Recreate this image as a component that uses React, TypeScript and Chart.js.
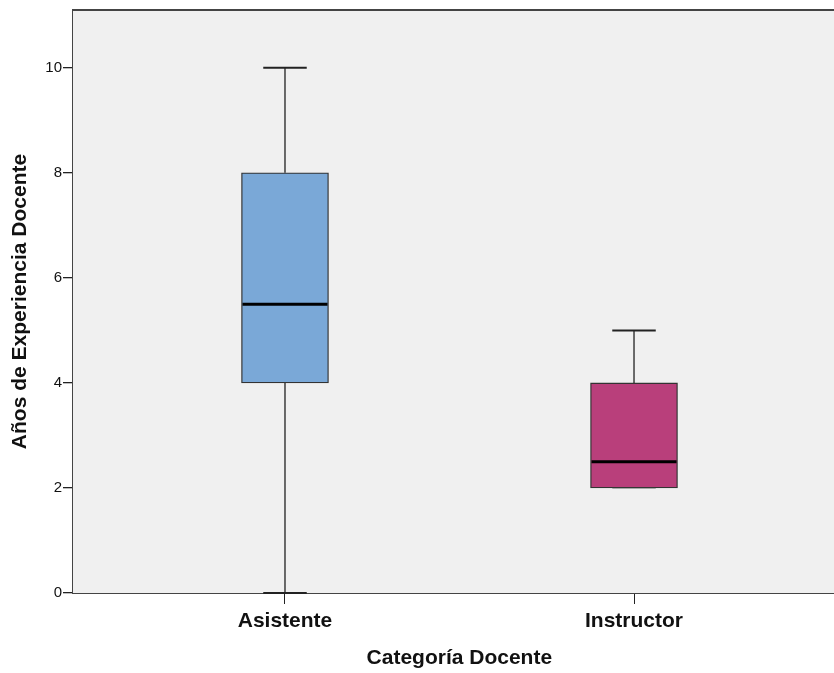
import React, { useEffect, useRef } from "react";
import { Chart, registerables } from "chart.js";

Chart.register(...registerables);

const categories = ["Asistente", "Instructor"];
const positions = [1, 2];
const mins = [0, 2];
const q1s = [4, 2];
const medians = [5.5, 2.5];
const q3s = [8, 4];
const maxs = [10, 5];
const boxColors = ["#7aa8d7", "#b93f7b"];
const yTicks = [0, 2, 4, 6, 8, 10];

const FONT = "'Liberation Sans', Arial, sans-serif";

const boxPlugin = {
  id: "boxExtras",
  beforeDatasetsDraw(chart: any) {
    const { ctx, chartArea } = chart;
    ctx.save();
    ctx.fillStyle = "#f0f0f0";
    ctx.fillRect(chartArea.left, chartArea.top, chartArea.right - chartArea.left, chartArea.bottom - chartArea.top);
    ctx.restore();
  },
  afterDatasetsDraw(chart: any) {
    const { ctx, chartArea } = chart;
    const xs = chart.scales.x;
    const ys = chart.scales.y;
    const meta = chart.getDatasetMeta(0);
    ctx.save();
    positions.forEach((p, i) => {
      const cx = xs.getPixelForValue(p);
      const w = meta.data[i] ? meta.data[i].width : 87;
      const cap = w / 2;
      const yMin = ys.getPixelForValue(mins[i]);
      const yMax = ys.getPixelForValue(maxs[i]);
      const yQ1 = ys.getPixelForValue(q1s[i]);
      const yQ3 = ys.getPixelForValue(q3s[i]);
      const yMed = ys.getPixelForValue(medians[i]);
      ctx.strokeStyle = "#111";
      ctx.lineWidth = 1.2;
      ctx.beginPath();
      ctx.moveTo(cx, yQ3);
      ctx.lineTo(cx, yMax);
      ctx.moveTo(cx, yQ1);
      ctx.lineTo(cx, yMin);
      ctx.stroke();
      ctx.lineWidth = 2;
      ctx.strokeStyle = "#222";
      ctx.beginPath();
      ctx.moveTo(cx - cap / 2, yMax);
      ctx.lineTo(cx + cap / 2, yMax);
      ctx.stroke();
      ctx.strokeStyle = mins[i] === q1s[i] ? "rgba(60,60,60,0.35)" : "#222";
      ctx.beginPath();
      ctx.moveTo(cx - cap / 2, yMin);
      ctx.lineTo(cx + cap / 2, yMin);
      ctx.stroke();
      ctx.strokeStyle = "#000";
      ctx.lineWidth = 3;
      ctx.beginPath();
      ctx.moveTo(cx - w / 2 + 1, yMed);
      ctx.lineTo(cx + w / 2 - 1, yMed);
      ctx.stroke();
    });
    ctx.strokeStyle = "#444";
    ctx.lineWidth = 2;
    ctx.beginPath();
    ctx.moveTo(chartArea.left - 1, chartArea.top);
    ctx.lineTo(chartArea.right, chartArea.top);
    ctx.stroke();
    ctx.restore();
  },
};

export default function App() {
  const ref = useRef<HTMLCanvasElement | null>(null);
  useEffect(() => {
    document.body.style.margin = "0";
    document.body.style.overflow = "hidden";
    const chart = new Chart(ref.current as HTMLCanvasElement, {
      type: "bar",
      data: {
        datasets: [
          {
            data: positions.map((p, i) => ({ x: p, y: [q1s[i], q3s[i]] })) as any,
            backgroundColor: boxColors,
            borderColor: "#333",
            borderWidth: 1.3,
            borderSkipped: false,
            barThickness: 87,
          },
        ],
      },
      options: {
        animation: false,
        responsive: false,
        layout: { padding: { top: 8, left: 0, right: 0, bottom: 0 } },
        plugins: { legend: { display: false }, tooltip: { enabled: false } },
        scales: {
          x: {
            type: "linear",
            min: 0.3926,
            max: 2.573,
            offset: false,
            afterFit: (s: any) => {
              s.height = 80;
            },
            afterBuildTicks: (s: any) => {
              s.ticks = positions.map((v) => ({ value: v }));
            },
            ticks: {
              autoSkip: false,
              maxRotation: 0,
              color: "#111",
              padding: 5,
              font: { family: FONT, size: 21, weight: "bold" },
              callback: (v: any) => categories[positions.indexOf(Number(v))] ?? "",
            },
            grid: { offset: false, drawOnChartArea: false, drawTicks: true, tickLength: 11, color: "#222", lineWidth: 1 },
            border: { display: true, color: "#444", width: 2 },
            title: {
              display: true,
              text: "  Categoría Docente",
              color: "#111",
              font: { family: FONT, size: 21, weight: "bold" },
              padding: { top: 0, bottom: 2 },
            },
          },
          y: {
            min: 0,
            max: 11.1,
            afterFit: (s: any) => {
              s.width = 73;
            },
            afterBuildTicks: (s: any) => {
              s.ticks = yTicks.map((v) => ({ value: v }));
            },
            ticks: {
              color: "#111",
              padding: 1,
              font: { family: FONT, size: 15 },
            },
            grid: { drawOnChartArea: false, drawTicks: true, tickLength: 10, color: "#222", lineWidth: 1.3 },
            border: { display: true, color: "#444", width: 2 },
            title: {
              display: true,
              text: "Años de Experiencia Docente",
              color: "#111",
              font: { family: FONT, size: 21, weight: "bold" },
              padding: { top: 8, bottom: 0 },
            },
          },
        },
      },
      plugins: [boxPlugin],
    });
    return () => chart.destroy();
  }, []);
  return (
    <div style={{ width: 834, height: 673 }}>
      <canvas ref={ref} width={834} height={673} style={{ display: "block" }} />
    </div>
  );
}
